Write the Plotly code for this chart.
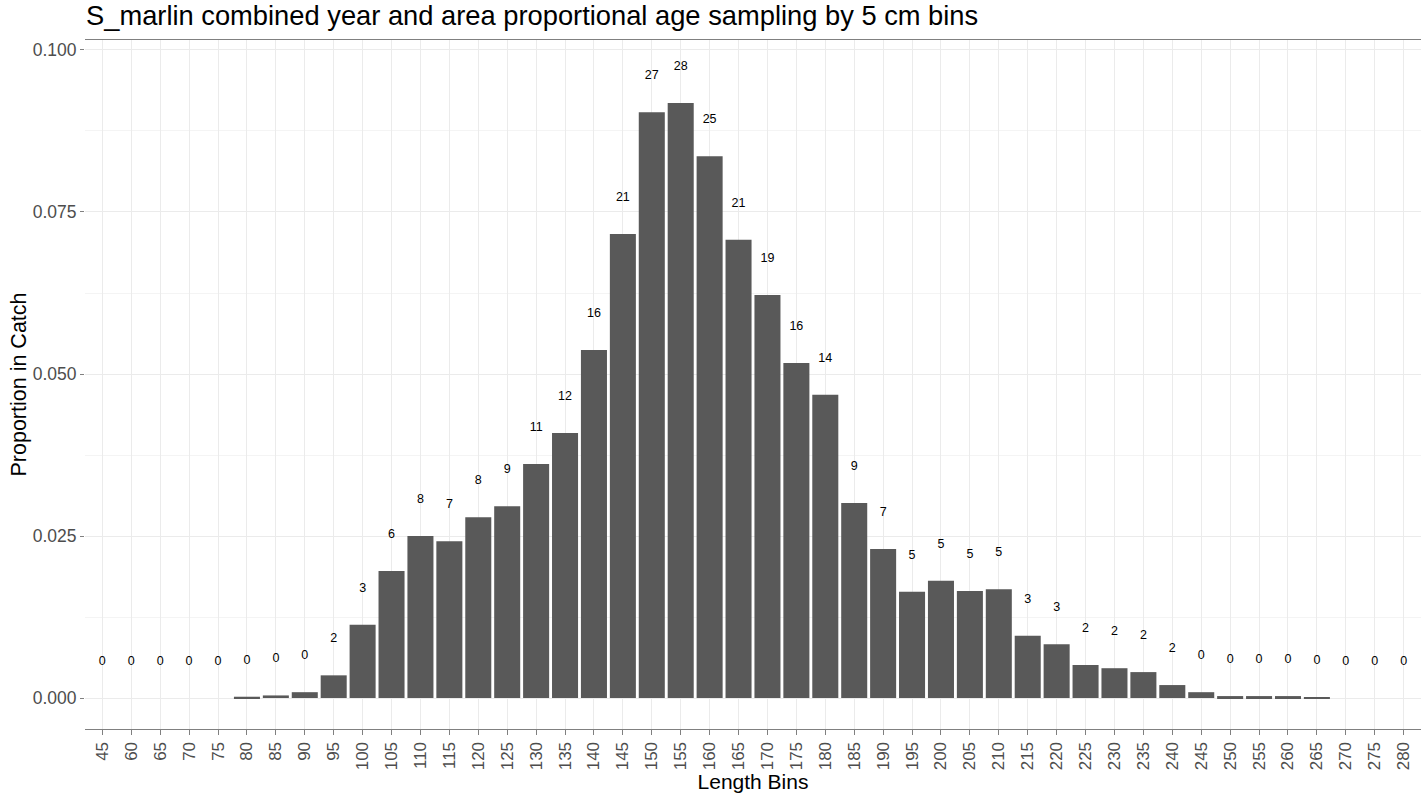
import plotly.graph_objects as go

bins = [45, 60, 65, 70, 75, 80, 85, 90, 95, 100, 105, 110, 115, 120, 125, 130, 135, 140,
        145, 150, 155, 160, 165, 170, 175, 180, 185, 190, 195, 200, 205, 210, 215, 220,
        225, 230, 235, 240, 245, 250, 255, 260, 265, 270, 275, 280]
proportion = [0, 0, 0, 0, 0, 0.0002, 0.0004, 0.0009, 0.0035, 0.0113, 0.0196, 0.0250,
              0.0242, 0.0279, 0.0296, 0.0361, 0.0409, 0.0537, 0.0716, 0.0904, 0.0918,
              0.0836, 0.0707, 0.0622, 0.0517, 0.0468, 0.0301, 0.0230, 0.0164, 0.0181,
              0.0165, 0.0168, 0.0096, 0.0083, 0.0051, 0.0046, 0.0040, 0.0020, 0.0009,
              0.0003, 0.0003, 0.0003, 0.0001, 0, 0, 0]
age_counts = [0, 0, 0, 0, 0, 0, 0, 0, 2, 3, 6, 8, 7, 8, 9, 11, 12, 16, 21, 27, 28, 25,
              21, 19, 16, 14, 9, 7, 5, 5, 5, 5, 3, 3, 2, 2, 2, 2, 0, 0, 0, 0, 0, 0, 0, 0]

cats = [str(b) for b in bins]
label_offset = 0.0056

fig = go.Figure()
fig.add_trace(go.Bar(x=cats, y=proportion, marker_color="#595959",
                     marker_line_width=0, showlegend=False))
fig.add_trace(go.Scatter(x=cats, y=[p + label_offset for p in proportion],
                         text=[str(c) for c in age_counts], mode="text",
                         textfont=dict(family="Liberation Sans, Arial", size=12.5, color="black"),
                         showlegend=False, cliponaxis=False))

fig.update_layout(
    width=1421, height=793,
    margin=dict(l=85, r=0, t=40, b=64, autoexpand=False),
    paper_bgcolor="white", plot_bgcolor="white",
    bargap=0.1,
    font=dict(family="Liberation Sans, Arial", color="#4D4D4D"),
    title=dict(text="S_marlin combined year and area proportional age sampling by 5 cm bins",
               x=86 / 1421, xanchor="left", y=1 - 15 / 793, yanchor="middle",
               font=dict(size=27.3, color="black")),
)
fig.update_xaxes(
    type="category", categoryorder="array", categoryarray=cats,
    range=[-0.6, len(cats) - 0.4],
    tickangle=-90, tickfont=dict(size=17, color="#4D4D4D"),
    ticks="outside", ticklen=5, tickcolor="#808080",
    showgrid=True, gridcolor="#EBEBEB", gridwidth=1,
    showline=True, linecolor="#808080", linewidth=1.3, mirror=True,
    title=dict(text="Length Bins", font=dict(size=21, color="black"), standoff=0),
    zeroline=False, automargin=False,
)
fig.update_yaxes(
    range=[-0.00478, 0.10154],
    tickvals=[0, 0.025, 0.05, 0.075, 0.1],
    ticktext=["0.000", "0.025", "0.050", "0.075", "0.100"],
    tickfont=dict(size=17.5, color="#4D4D4D"),
    ticks="outside", ticklen=4, tickcolor="#808080",
    showgrid=True, gridcolor="#EBEBEB", gridwidth=1,
    minor=dict(tickvals=[0.0125, 0.0375, 0.0625, 0.0875], showgrid=True,
               gridcolor="#F4F4F4", gridwidth=1, ticks=""),
    showline=False, zeroline=False, automargin=False,
    title=dict(text="Proportion in Catch", font=dict(size=21.5, color="black"), standoff=0),
)

fig.write_html("out.html", config={"displayModeBar": False},
               post_script="document.body.style.margin='0px';document.body.style.overflow='hidden';")
